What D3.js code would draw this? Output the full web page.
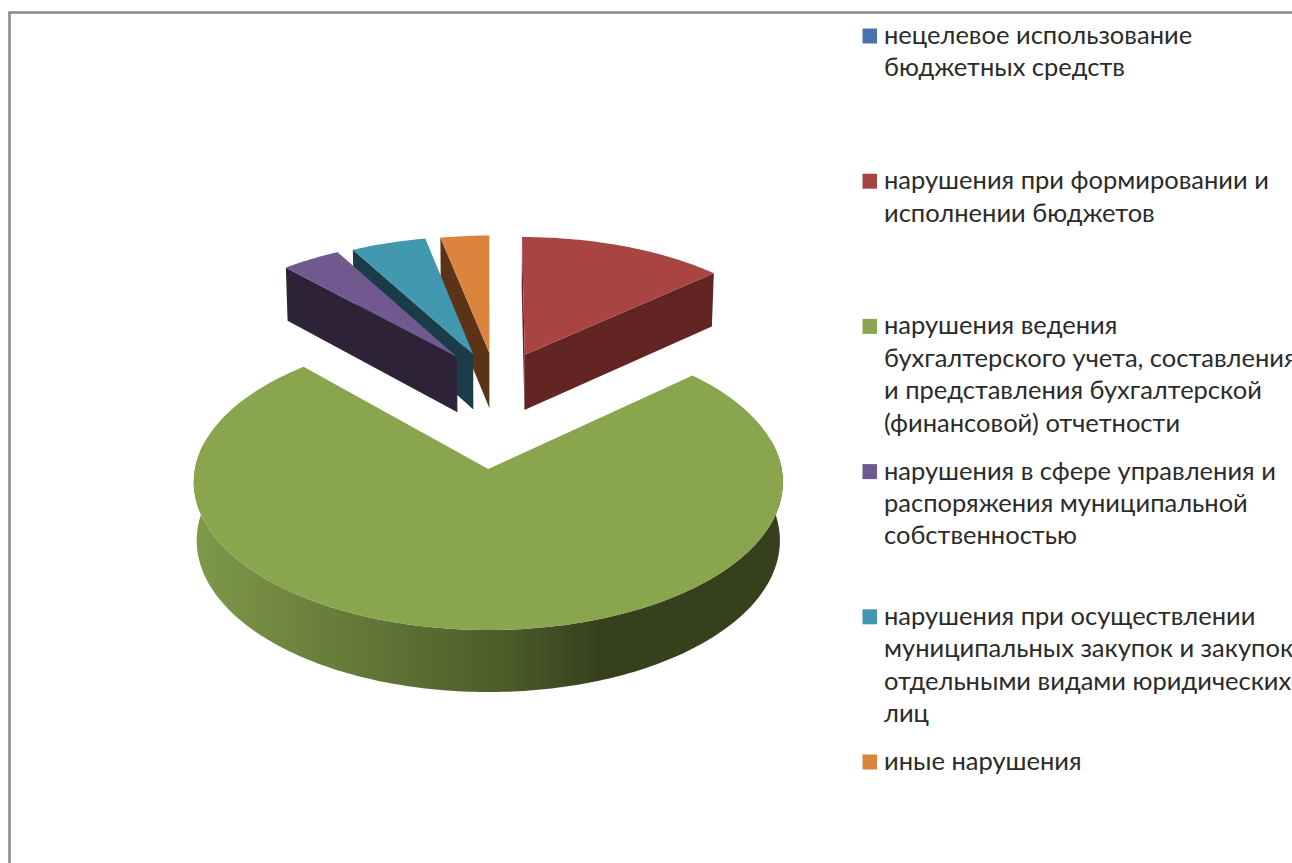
<!DOCTYPE html>
<html>
<head>
<meta charset="UTF-8">
<title>Нарушения</title>
<script src="https://d3js.org/d3.v7.min.js"></script>
<style>
  html, body { margin: 0; padding: 0; background: #fff; overflow: hidden; }
  svg { display: block; }
  text { font-family: Lato, "Open Sans", sans-serif; font-size: 25.5px; fill: #2b2b2b; }
</style>
</head>
<body>
<svg id="chart" width="1292" height="863"></svg>
<script>
// shares in percent (the first one has no visible slice)
const categories = [
  "нецелевое использование бюджетных средств",
  "нарушения при формировании и исполнении бюджетов",
  "нарушения ведения бухгалтерского учета, составления и представления бухгалтерской (финансовой) отчетности",
  "нарушения в сфере управления и распоряжения муниципальной собственностью",
  "нарушения при осуществлении муниципальных закупок и закупок отдельными видами юридических лиц",
  "иные нарушения"
];
const shares = [0, 13.2, 75.1, 3.8, 4.8, 3.1];
const legendLines = [
  ["нецелевое использование", "бюджетных средств"],
  ["нарушения при формировании и", "исполнении бюджетов"],
  ["нарушения ведения", "бухгалтерского учета, составления", "и представления бухгалтерской", "(финансовой) отчетности"],
  ["нарушения в сфере управления и", "распоряжения муниципальной", "собственностью"],
  ["нарушения при осуществлении", "муниципальных закупок и закупок", "отдельными видами юридических", "лиц"],
  ["иные нарушения"]
];

// look of the slices
const topColors  = ["#4674ab", "#a84543", "#89a54e", "#71588f", "#4198af", "#db843d"];
const wallColors = ["#24405f", "#632523", "#37401d", "#2d2238", "#1a3c49", "#5b3418"];
const explode    = [[0, 0], [.262, .174], [.594, .677], [.2457, .174], [.2457, .174], [.2457, .174]];
const drawOrder  = [5, 4, 3, 1, 2];

const svg = d3.select("#chart");

// frame, open to the right and the bottom
svg.append("rect")
  .attr("x", 9.5).attr("y", 12.5).attr("width", 1400).attr("height", 1000)
  .attr("fill", "none").attr("stroke", "#8c8c8c").attr("stroke-width", 2.6);

// perspective view of the pie: u to the right, v away from viewer, d downwards
const view = { x0: 488, y0: 469, a: 293.4, b: 146.8, c: 58.8, p: .088, q: .01 };
function project(u, v, d) {
  const w = 1 + view.p * v + view.q * d;
  return [view.x0 + view.a * u / w, view.y0 + (view.c * d - view.b * v) / w];
}

// green side gets the lighting from the left
const grad = svg.append("defs").append("linearGradient")
  .attr("id", "greenSide").attr("gradientUnits", "userSpaceOnUse")
  .attr("x1", 198).attr("x2", 780).attr("y1", 0).attr("y2", 0);
[[0, "#7d9849"], [.31, "#607536"], [.52, "#4c5d2a"], [.69, "#37401d"], [1, "#37401d"]]
  .forEach(s => grad.append("stop").attr("offset", s[0]).attr("stop-color", s[1]));

const pie = d3.pie().sort(null).value(d => d).startAngle(0).endAngle(2 * Math.PI);
const arcs = pie(shares);
const center = [.029, .676];
const line = d3.line();
const step = Math.PI / 180;

drawOrder.forEach(i => {
  const a = arcs[i];
  const mid = (a.startAngle + a.endAngle) / 2;
  const cu = center[0] + explode[i][0] * Math.sin(mid);
  const cv = center[1] + explode[i][1] * Math.cos(mid);
  const angles = d3.range(a.startAngle, a.endAngle, step).concat(a.endAngle);
  const rim = t => [cu + Math.sin(t), cv + Math.cos(t)];
  const g = svg.append("g").attr("class", "slice");

  // outer wall, only the part turned to the viewer
  let front = angles.filter(t => Math.cos(t) < .2);
  if (front.length) {
    const pts = front.map(t => project(...rim(t), 0))
      .concat(front.slice().reverse().map(t => project(...rim(t), 1)));
    g.append("path").attr("d", line(pts) + "Z")
      .attr("fill", i === 2 ? "url(#greenSide)" : wallColors[i]);
  }

  // cut walls, hidden ones are dropped by their winding on screen
  [[a.startAngle, 1], [a.endAngle, -1]].forEach(([t, sign]) => {
    const r = rim(t);
    const pts = [project(cu, cv, 0), project(r[0], r[1], 0), project(r[0], r[1], 1), project(cu, cv, 1)];
    if (d3.polygonArea(pts) * sign > 0) {
      g.append("path").attr("d", line(pts) + "Z").attr("fill", wallColors[i]);
    }
  });

  // top face
  const face = [project(cu, cv, 0)].concat(angles.map(t => project(...rim(t), 0)));
  g.append("path").attr("d", line(face) + "Z").attr("fill", topColors[i]);
});

// legend
const legendY = d3.scaleLinear().domain([0, categories.length - 1]).range([36, 762]);
const lineGap = 32.4;
const entry = svg.selectAll("g.legend").data(legendLines).join("g")
  .attr("class", "legend")
  .attr("transform", (d, i) => "translate(0," + legendY(i) + ")");
entry.append("rect")
  .attr("x", 862.5).attr("y", -7.5).attr("width", 14.5).attr("height", 15)
  .attr("fill", (d, i) => topColors[i]);
entry.selectAll("text").data(d => d).join("text")
  .attr("x", 884)
  .attr("y", (d, i) => 8 + i * lineGap)
  .text(d => d);
</script>
</body>
</html>
